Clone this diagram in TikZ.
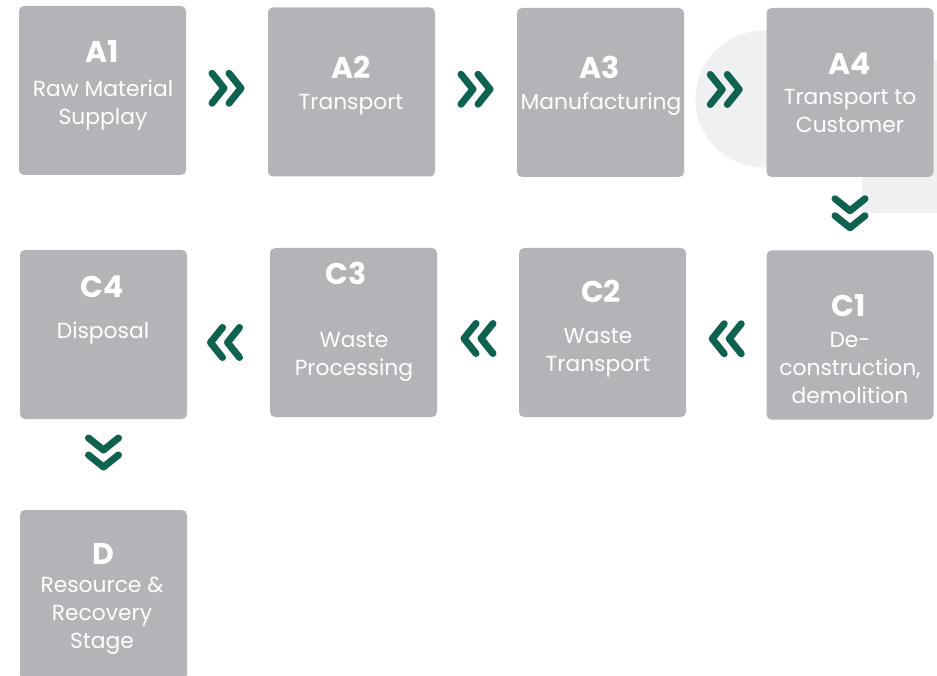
\documentclass[tikz,border=0pt]{standalone}
\usepackage{fontspec}
\setmainfont{Poppins}
\definecolor{boxgray}{HTML}{B3B4B7}
\definecolor{bggray}{HTML}{EFF0F1}
\definecolor{chevgreen}{HTML}{0F6150}
\tikzset{
  stagebox/.style={fill=boxgray, rounded corners=5pt, minimum width=167pt, minimum height=169pt, inner sep=0pt, draw=none},
  ttl/.style={text=white, font=\fontsize{30}{30}\selectfont\bfseries, inner sep=0pt},
  body/.style={text=white, font=\fontsize{21.8}{28}\selectfont, align=center, inner sep=0pt},
  chev/.pic={\draw[chevgreen, line width=7pt, line cap=round, line join=round]
      (-15,-15)--(-3,0)--(-15,15) (2,-15)--(14,0)--(2,15);}
}
\begin{document}
\begin{tikzpicture}[x=1pt,y=-1pt]
\clip (0,0) rectangle (937,676);
\fill[white] (0,0) rectangle (937,676);
% background decoration
\fill[bggray] (764,99) circle (68.5);
\fill[bggray] (862,60) rectangle (945,213);
% boxes
\node[stagebox] (A1) at (102.5,90.5) {};
\node[stagebox] (A2) at (351.5,92) {};
\node[stagebox] (A3) at (600.5,92.5) {};
\node[stagebox] (A4) at (850,92.5) {};
\node[stagebox] (C4) at (103.5,334.5) {};
\node[stagebox] (C3) at (353.5,332.5) {};
\node[stagebox] (C2) at (602.5,332.5) {};
\node[stagebox] (C1) at (850,335) {};
\node[stagebox] (D) at (103.5,594.5) {};
% texts
\node[ttl] (A1t) at (102.5,52) {A1};
\node[body] (A1b) at (103,105.5) {Raw Material\\Supplay};
\node[ttl] (A2t) at (351,67) {A2};
\node[body] (A2b) at (351,104.5) {Transport};
\node[ttl] (A3t) at (600,67) {A3};
\node[body] (A3b) at (601,104.5) {Manufacturing};
\node[ttl] (A4t) at (850,64) {A4};
\node[body] (A4b) at (850,111.5) {Transport to\\Customer};
\node[ttl] (C4t) at (102,287) {C4};
\node[body] (C4b) at (103,333.5) {Disposal};
\node[ttl] (C3t) at (346,273) {C3};
\node[body] (C3b) at (354,356.5) {Waste\\Processing};
\node[ttl] (C2t) at (601,291) {C2};
\node[body] (C2b) at (598,352.5) {Waste\\Transport};
\node[ttl] (C1t) at (849,306) {C1};
\node[body] (C1b) at (850,367.5) {De-\\construction,\\demolition};
\node[ttl] (Dt) at (103,554) {D};
\node[body] (Db) at (102,615.5) {Resource \&\\Recovery\\Stage};
% connectors (chevrons)
\path (A1.east) -- (A2.west) coordinate[midway] (c12);
\path (A2.east) -- (A3.west) coordinate[midway] (c23);
\path (A3.east) -- (A4.west) coordinate[midway] (c34);
\path (A4.south) -- (C1.north) coordinate[midway] (c4c1);
\path (C1.west) -- (C2.east) coordinate[midway] (cc12);
\path (C2.west) -- (C3.east) coordinate[midway] (cc23);
\path (C3.west) -- (C4.east) coordinate[midway] (cc34);
\path (C4.south) -- (D.north) coordinate[midway] (cc4d);
\pic[yshift=3pt] at (c12) {chev};
\pic[yshift=3pt] at (c23) {chev};
\pic[yshift=3pt] at (c34) {chev};
\pic[rotate=-90] at (c4c1) {chev};
\pic[yshift=-5pt, rotate=180] at (cc12) {chev};
\pic[yshift=-6pt, rotate=180] at (cc23) {chev};
\pic[yshift=-9pt, xshift=-4pt, rotate=180] at (cc34) {chev};
\pic[yshift=11.5pt, rotate=-90] at (cc4d) {chev};
\end{tikzpicture}
\end{document}
